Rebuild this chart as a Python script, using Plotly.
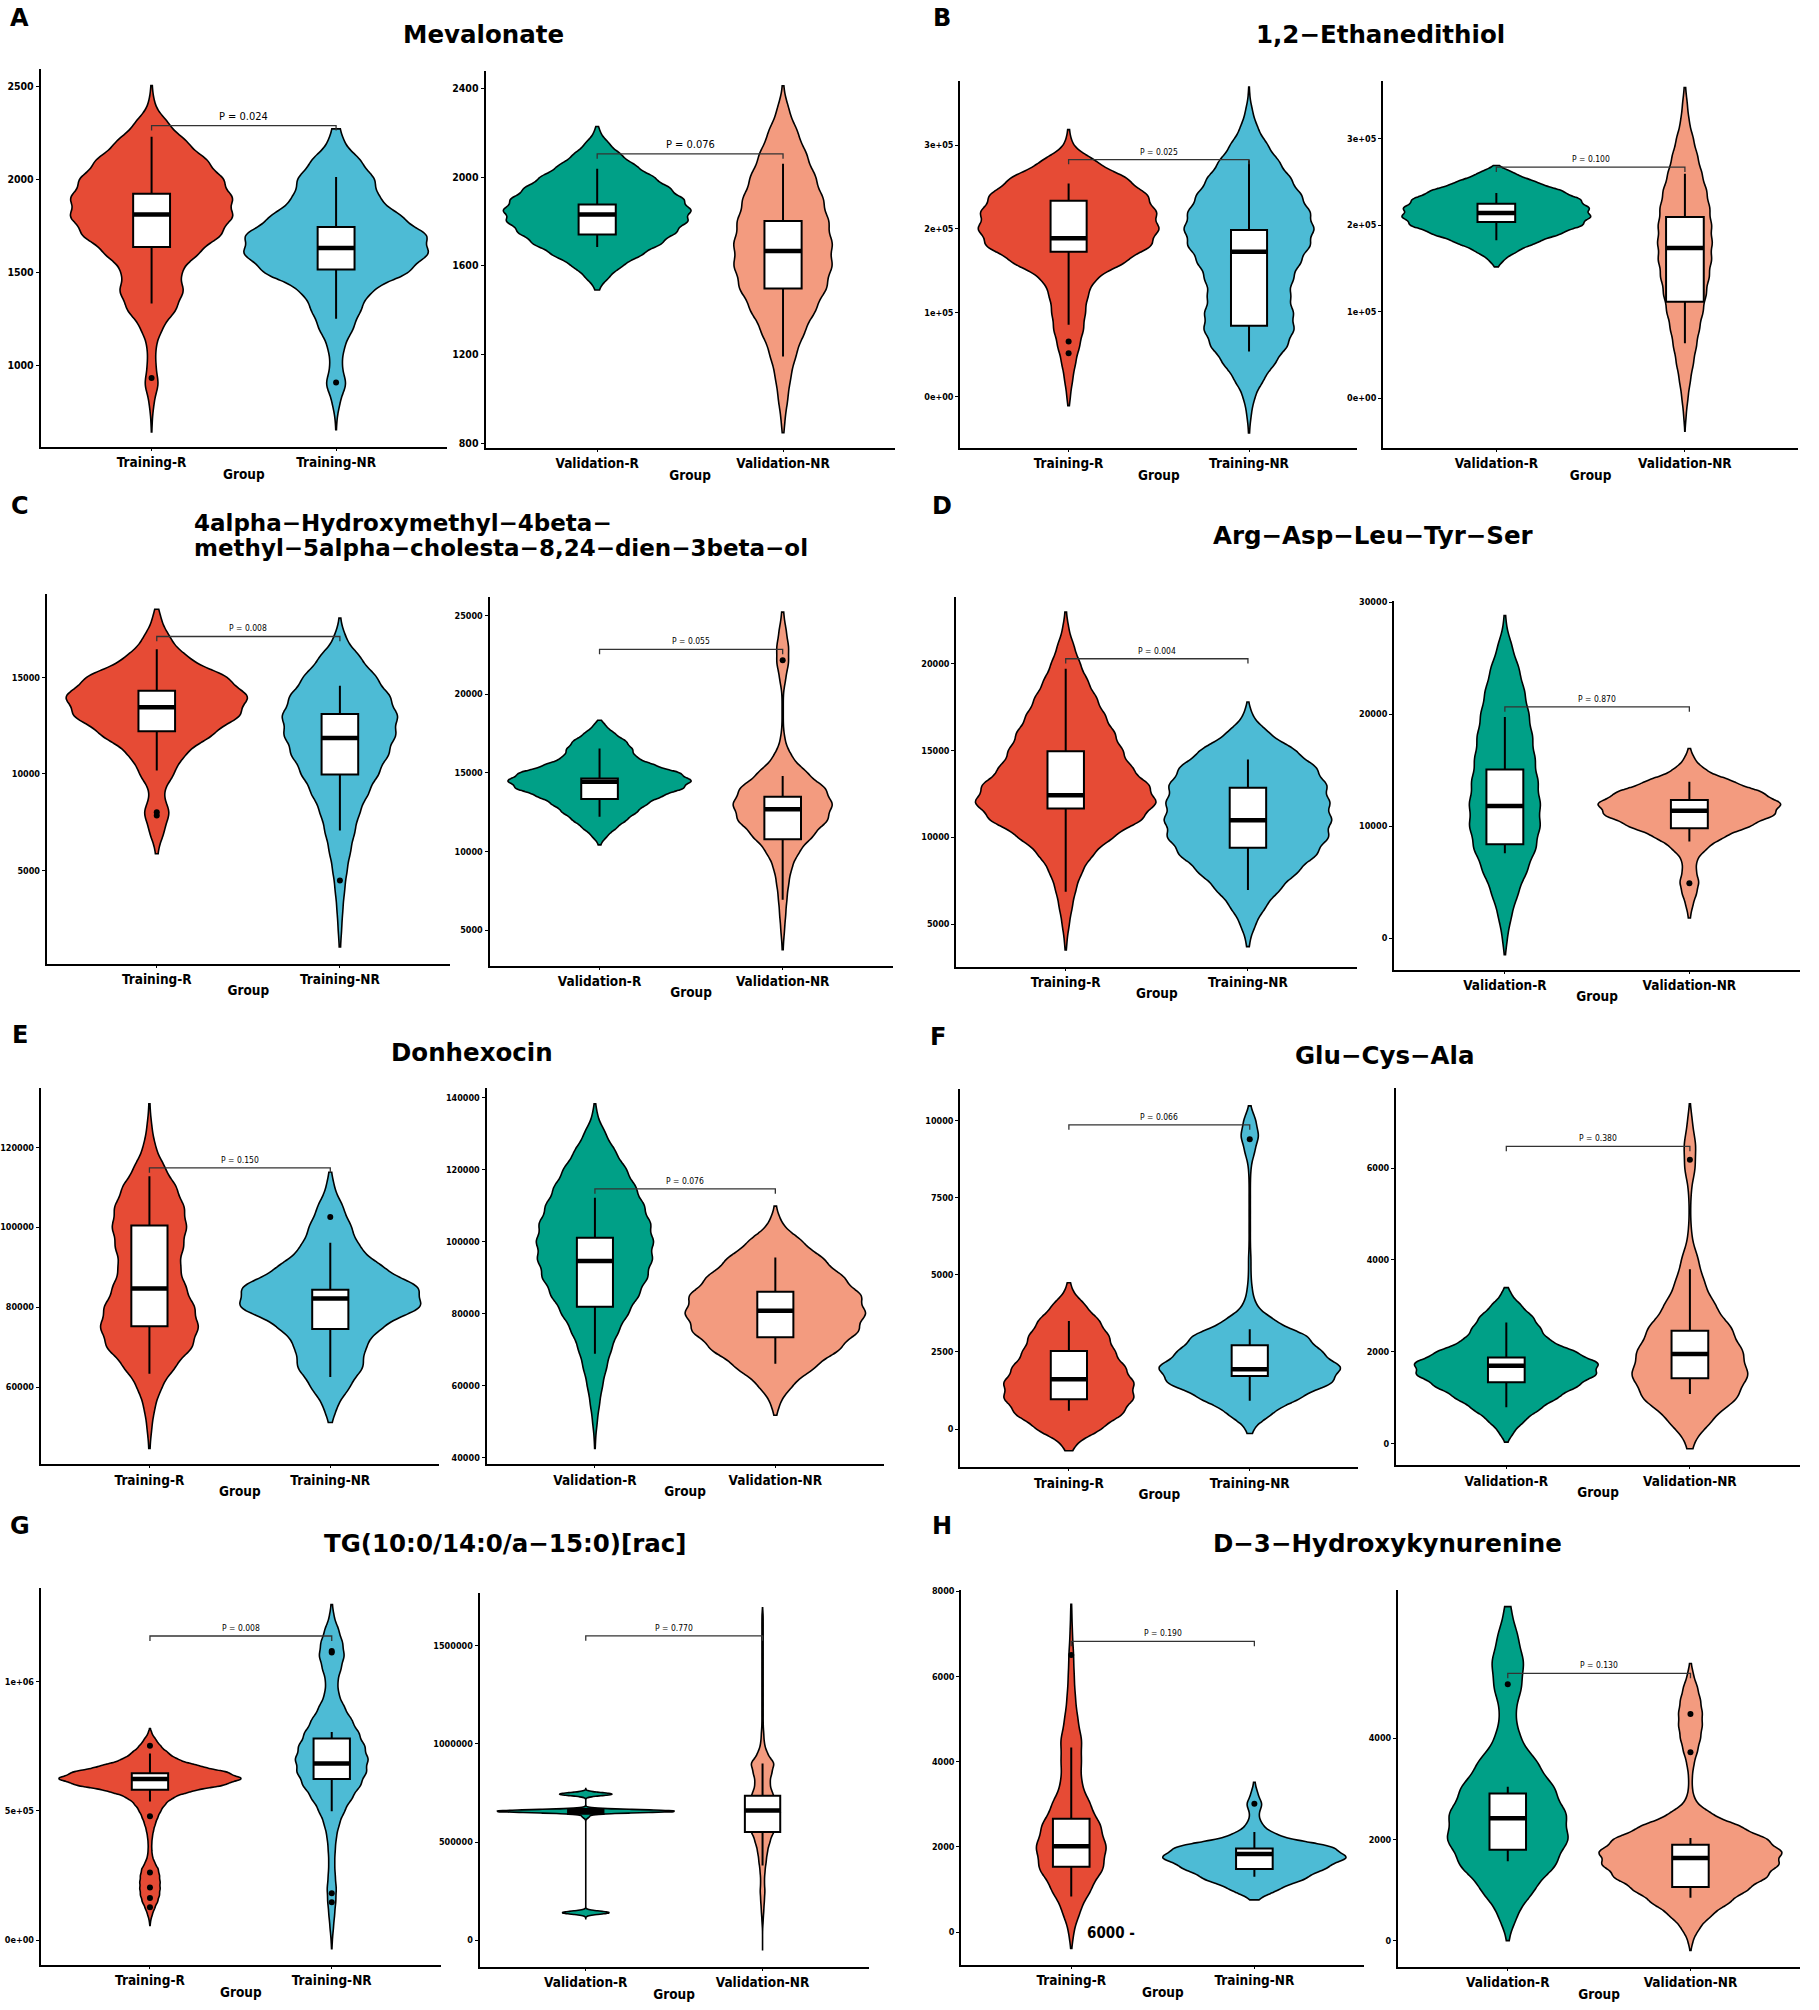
import numpy as np
import plotly.graph_objects as go

W, H = 1819, 2010

NARROW = "DejaVu Sans Condensed, Liberation Sans Narrow, Arial Narrow, sans-serif"
TITLE_FONT = "DejaVu Sans, Liberation Sans, Arial, sans-serif"

C_TR_R, C_TR_NR = "#E64B35", "#4DBBD5"
C_VA_R, C_VA_NR = "#00A087", "#F39B7F"

TRAIN = ["Training-R", "Training-NR"]
VALID = ["Validation-R", "Validation-NR"]

LETTERS = ["A", "B", "C", "D", "E", "F", "G", "H"]
TITLES = ["Mevalonate", "1,2−Ethanedithiol",
          ["4alpha−Hydroxymethyl−4beta−", "methyl−5alpha−cholesta−8,24−dien−3beta−ol"],
          "Arg−Asp−Leu−Tyr−Ser", "Donhexocin", "Glu−Cys−Ala",
          "TG(10:0/14:0/a−15:0)[rac]", "D−3−Hydroxykynurenine"]

# ---------------- violin densities: value levels and relative widths
# A  Mevalonate
A_TR_R_LV = [700, 800, 900, 1000, 1100, 1200, 1300, 1400, 1500, 1600, 1700, 1800, 1900, 2000, 2100, 2200, 2300, 2400, 2500]
A_TR_R_W = [1, 4, 12, 7, 7, 18, 42, 55, 48, 78, 118, 138, 137, 122, 95, 60, 28, 5, 1]
A_TR_NR_LV = [700, 800, 900, 1000, 1100, 1200, 1300, 1400, 1500, 1600, 1700, 1800, 1900, 2000, 2100, 2200, 2300]
A_TR_NR_W = [1, 6, 17, 9, 13, 28, 40, 55, 118, 150, 148, 105, 68, 63, 40, 12, 5]
A_VA_R_LV = [1500, 1550, 1600, 1650, 1700, 1750, 1800, 1850, 1900, 1950, 2000, 2050, 2100, 2150, 2200]
A_VA_R_W = [4, 20, 42, 75, 108, 132, 152, 158, 145, 122, 95, 65, 40, 20, 5]
A_VA_NR_LV = [900, 1000, 1100, 1200, 1300, 1400, 1500, 1600, 1700, 1800, 1900, 2000, 2100, 2200, 2300, 2400]
A_VA_NR_W = [3, 8, 13, 22, 36, 55, 74, 83, 83, 77, 68, 55, 40, 25, 10, 1]
# B  1,2-Ethanedithiol
B_TR_R_LV = [0, 20000, 40000, 60000, 80000, 100000, 120000, 140000, 160000, 180000, 200000, 220000, 240000, 260000, 280000, 300000, 320000]
B_TR_R_W = [3, 7, 12, 19, 26, 29, 33, 45, 97, 145, 157, 152, 138, 103, 48, 6, 1]
B_TR_NR_LV = [-40000, -20000, 0, 20000, 40000, 60000, 80000, 100000, 120000, 140000, 160000, 180000, 200000, 220000, 240000, 260000, 280000, 300000, 320000, 340000, 360000]
B_TR_NR_W = [1, 4, 10, 25, 45, 66, 78, 76, 70, 75, 88, 105, 112, 105, 90, 72, 52, 32, 15, 6, 1]
B_VA_R_LV = [150000, 160000, 170000, 180000, 190000, 200000, 210000, 220000, 230000, 240000, 250000, 260000, 270000]
B_VA_R_W = [1, 12, 34, 66, 105, 142, 155, 152, 138, 108, 65, 30, 1]
B_VA_NR_LV = [-20000, 0, 20000, 40000, 60000, 80000, 100000, 120000, 140000, 160000, 180000, 200000, 220000, 240000, 260000, 280000, 300000, 320000, 340000, 360000]
B_VA_NR_W = [2, 5, 9, 14, 19, 24, 30, 35, 40, 44, 45, 44, 41, 36, 28, 21, 14, 7, 4, 1]
# C  4alpha-Hydroxymethyl...
C_TR_R_LV = [6000, 7000, 8000, 9000, 10000, 11000, 12000, 13000, 14000, 15000, 16000, 17000, 18000]
C_TR_R_W = [2, 12, 22, 10, 28, 45, 90, 138, 153, 118, 50, 22, 7]
C_TR_NR_LV = [1000, 2000, 3000, 4000, 5000, 6000, 7000, 8000, 9000, 10000, 11000, 12000, 13000, 14000, 15000, 16000, 17000, 18000]
C_TR_NR_W = [1, 3, 5, 8, 12, 18, 25, 33, 48, 65, 82, 94, 98, 85, 62, 35, 10, 1]
C_VA_R_LV = [10500, 11000, 11500, 12000, 12500, 13000, 13500, 14000, 14500, 15000, 15500, 16000, 16500, 17000, 17500, 18000]
C_VA_R_W = [2, 13, 28, 45, 62, 78, 102, 140, 155, 135, 90, 60, 55, 45, 25, 10]
C_VA_NR_LV = [4000, 5000, 6000, 7000, 8000, 9000, 10000, 11000, 12000, 13000, 14000, 15000, 16000, 17000, 18000, 19000, 20000, 21000, 22000, 23000, 24000, 25000]
C_VA_NR_W = [1, 3, 5, 7, 10, 15, 27, 50, 75, 83, 72, 40, 15, 4, 1, 1, 1, 5, 10, 10, 6, 2]
# D  Arg-Asp-Leu-Tyr-Ser
D_TR_R_LV = [4000, 5000, 6000, 7000, 8000, 9000, 10000, 11000, 12000, 13000, 14000, 15000, 16000, 17000, 18000, 19000, 20000, 21000, 22000, 23000]
D_TR_R_W = [2, 6, 11, 17, 27, 45, 78, 128, 154, 140, 110, 95, 82, 66, 52, 37, 24, 14, 5, 1]
D_TR_NR_LV = [4000, 5000, 6000, 7000, 8000, 9000, 10000, 11000, 12000, 13000, 14000, 15000, 16000, 17000]
D_TR_NR_W = [3, 13, 30, 55, 85, 118, 138, 143, 139, 135, 118, 82, 35, 7]
D_VA_R_LV = [0, 2000, 4000, 6000, 8000, 10000, 12000, 14000, 16000, 18000, 20000, 22000, 24000, 26000, 28000]
D_VA_R_W = [4, 11, 22, 37, 52, 59, 59, 55, 50, 46, 40, 33, 24, 12, 2]
D_VA_NR_LV = [2000, 3000, 4000, 5000, 6000, 7000, 8000, 9000, 10000, 11000, 12000, 13000, 14000, 15000, 16000, 17000]
D_VA_NR_W = [2, 6, 12, 16, 11, 12, 28, 55, 100, 140, 152, 120, 70, 25, 8, 1]
# E  Donhexocin
E_TR_R_LV = [45000, 50000, 55000, 60000, 65000, 70000, 75000, 80000, 85000, 90000, 95000, 100000, 105000, 110000, 115000, 120000, 125000, 130000]
E_TR_R_W = [1, 4, 9, 20, 42, 72, 82, 75, 60, 50, 56, 62, 58, 45, 25, 10, 4, 1]
E_TR_NR_LV = [50000, 55000, 60000, 65000, 70000, 75000, 80000, 85000, 90000, 95000, 100000, 105000, 110000, 115000]
E_TR_NR_W = [1, 10, 30, 52, 54, 78, 145, 140, 80, 45, 33, 20, 6, 1]
E_VA_R_LV = [45000, 50000, 55000, 60000, 65000, 70000, 75000, 80000, 85000, 90000, 95000, 100000, 105000, 110000, 115000, 120000, 125000, 130000, 135000]
E_VA_R_W = [1, 4, 8, 13, 20, 28, 40, 57, 75, 90, 98, 100, 95, 84, 70, 54, 35, 18, 4]
E_VA_NR_LV = [55000, 60000, 65000, 70000, 75000, 80000, 85000, 90000, 95000, 100000, 105000, 110000]
E_VA_NR_W = [7, 28, 66, 108, 140, 152, 145, 115, 82, 45, 10, 1]
# F  Glu-Cys-Ala
F_TR_R_LV = [-500, 0, 500, 1000, 1500, 2000, 2500, 3000, 3500, 4000, 4500]
F_TR_R_W = [10, 55, 92, 110, 110, 95, 77, 68, 52, 28, 5]
F_TR_NR_LV = [0, 500, 1000, 1500, 2000, 2500, 3000, 3500, 4000, 4500, 5000, 5500, 6000, 6500, 7000, 7500, 8000, 8500, 9000, 9500, 10000, 10500]
F_TR_NR_W = [5, 35, 80, 135, 150, 115, 95, 40, 10, 4, 2, 2, 1, 1, 1, 1, 1, 2, 8, 15, 10, 1]
F_VA_R_LV = [0, 250, 500, 750, 1000, 1250, 1500, 1750, 2000, 2250, 2500, 2750, 3000, 3250]
F_VA_R_W = [1, 12, 30, 55, 85, 118, 150, 155, 115, 70, 57, 45, 25, 8]
F_VA_NR_LV = [0, 500, 1000, 1500, 2000, 2500, 3000, 3500, 4000, 4500, 5000, 5500, 6000, 6500, 7000]
F_VA_NR_W = [5, 35, 80, 98, 88, 70, 42, 24, 14, 3, 1, 2, 9, 10, 4]
# G  TG(10:0/14:0/a-15:0)[rac]
G_TR_R_LV = [75000, 100000, 125000, 150000, 175000, 200000, 225000, 250000, 275000, 300000, 325000, 350000, 375000, 400000, 425000,
             450000, 475000, 500000, 525000, 550000, 575000, 600000, 625000, 650000, 675000, 700000, 725000, 750000, 775000, 800000]
G_TR_R_W = [1, 4, 8, 13, 16, 17, 17, 16, 14, 8, 4, 3, 3, 4, 6, 9, 13, 18, 25, 37, 65, 125, 157, 130, 80, 45, 30, 18, 10, 3]
G_TR_NR_LV = [0, 50000, 100000, 150000, 200000, 250000, 300000, 350000, 400000, 450000, 500000, 550000, 600000, 650000,
              700000, 750000, 800000, 850000, 900000, 950000, 1000000, 1050000, 1100000, 1150000, 1200000, 1250000, 1300000]
G_TR_NR_W = [1, 3, 5, 7, 8, 6, 5, 6, 8, 13, 22, 35, 50, 60, 63, 57, 47, 35, 22, 12, 10, 16, 22, 19, 12, 4, 1]
G_VA_R_LV = [140000, 630000, 657000, 744000]
G_VA_R_W = [40, 6, 153, 45]
G_VA_NR_LV = [100000, 150000, 200000, 250000, 300000, 350000, 400000, 450000, 500000, 550000, 600000, 650000, 700000, 750000,
              800000, 850000, 900000, 950000, 1000000, 1050000, 1100000, 1150000, 1200000, 1250000, 1300000, 1350000, 1400000,
              1450000, 1500000, 1550000, 1600000, 1650000]
G_VA_NR_W = [1, 2, 3, 4, 3, 4, 6, 8, 12, 18, 26, 30, 25, 16, 12, 15, 20, 8, 3, 2, 1, 1, 1, 1, 1, 1, 1, 1, 1, 1, 1, 1]
# H  D-3-Hydroxykynurenine
H_TR_R_LV = [0, 500, 1000, 1500, 2000, 2500, 3000, 3500, 4000, 4500, 5000, 5500, 6000, 6500, 7000, 7500]
H_TR_R_W = [4, 15, 33, 55, 60, 50, 32, 17, 17, 18, 11, 7, 5, 4, 2, 1]
H_TR_NR_LV = [750, 1000, 1250, 1500, 1750, 2000, 2250, 2500, 2750, 3000, 3250, 3500]
H_TR_NR_W = [3, 35, 75, 105, 140, 120, 35, 12, 6, 12, 5, 1]
H_VA_R_LV = [0, 500, 1000, 1500, 2000, 2500, 3000, 3500, 4000, 4500, 5000, 5500, 6000, 6500]
H_VA_R_W = [1, 15, 43, 80, 101, 97, 78, 50, 20, 12, 23, 27, 17, 6]
H_VA_NR_LV = [0, 250, 500, 750, 1000, 1250, 1500, 1750, 2000, 2250, 2500, 2750, 3000, 3250, 3500, 3750, 4000, 4250, 4500, 4750, 5000, 5250, 5500]
H_VA_NR_W = [4, 15, 35, 65, 95, 128, 148, 155, 130, 85, 35, 8, 3, 3, 6, 12, 17, 20, 20, 17, 12, 5, 1]

# violin tips (lower, upper) per group
A_TR_SPAN = [[642, 2505], [654, 2272]]
A_VA_SPAN = [[1491, 2228], [847, 2412]]
B_TR_SPAN = [[-11100, 318700], [-43700, 369500]]
B_VA_SPAN = [[151900, 269200], [-38500, 359600]]
C_TR_SPAN = [[5863, 18534], [1036, 18069]]
C_VA_SPAN = [[10427, 18347], [3775, 25211]]
D_TR_SPAN = [[3505, 22973], [3697, 17794]]
D_VA_SPAN = [[-1482, 28812], [1785, 16932]]
E_TR_SPAN = [[44628, 130886], [51110, 113767]]
E_VA_SPAN = [[42492, 138247], [51717, 109834]]
F_TR_SPAN = [[-705, 4739], [-144, 10474]]
F_VA_SPAN = [[35, 3397], [-109, 7395]]
G_TR_SPAN = [[57500, 818400], [-32000, 1297900]]
G_VA_SPAN = [[109400, 772800], [-53500, 1693100]]
H_TR_SPAN = [[-381, 7689], [761, 3518]]
H_VA_SPAN = [[0, 6601], [-196, 5477]]

# box stats: lower whisker, q1, median, q3, upper whisker
A_TR_BOX = [[1332, 1636, 1812, 1923, 2230], [1251, 1516, 1631, 1744, 2013]]
A_VA_BOX = [[1685, 1741, 1831, 1876, 2037], [1191, 1498, 1667, 1802, 2060]]
B_TR_BOX = [[85500, 172900, 188800, 233700, 254300], [53700, 84300, 172900, 198700, 282000]]
B_VA_BOX = [[182700, 203800, 214200, 225000, 237300], [63500, 111500, 173800, 209600, 259600]]
C_TR_BOX = [[10173, 12207, 13448, 14310, 16465], [7070, 9966, 11862, 13104, 14569]]
C_VA_BOX = [[12222, 13342, 14440, 14651, 16552], [6943, 10786, 12687, 13490, 14799]]
D_TR_BOX = [[6862, 11657, 12424, 14956, 19712], [6958, 9393, 10985, 12846, 14476]]
D_VA_BOX = [[7576, 8378, 11794, 15061, 19753], [8616, 9804, 11377, 12328, 13962]]
E_TR_BOX = [[63326, 75209, 84682, 100471, 112770], [62495, 74544, 82190, 84350, 96150]]
E_VA_BOX = [[68784, 81883, 94613, 101070, 112141], [66015, 73394, 80774, 86033, 95535]]
F_TR_BOX = [[589, 966, 1613, 2530, 3500], [912, 1721, 1937, 2713, 3230]]
F_VA_BOX = [[794, 1337, 1698, 1879, 2638], [1084, 1424, 1951, 2457, 3795]]
G_TR_BOX = [[537000, 581800, 624000, 645800, 722500], [498700, 624000, 684000, 780000, 805600]]
G_VA_BOX = [[640000, 643500, 656900, 668700, 672000], [380000, 551100, 660200, 735800, 900000]]
H_TR_BOX = [[839, 1538, 2019, 2664, 4334], [1305, 1483, 1833, 1965, 2353]]
H_VA_BOX = [[1569, 1797, 2418, 2908, 3039], [849, 1059, 1634, 1895, 2026]]

# outlier points
A_TR_OUT = [[932], [907]]
A_VA_OUT = [[], []]
B_TR_OUT = [[65600, 51700], []]
B_VA_OUT = [[], []]
C_TR_OUT = [[8018, 7845], [4484]]
C_VA_OUT = [[], [22149]]
D_TR_OUT = [[], []]
D_VA_OUT = [[], [4904]]
E_TR_OUT = [[], [102549]]
E_VA_OUT = [[], []]
F_TR_OUT = [[], [9396]]
F_VA_OUT = [[], [6181]]
G_TR_OUT = [[752000, 479500, 262100, 204600, 163700, 127900], [1118900, 1112500, 181600, 147000]]
G_VA_OUT = [[], []]
H_TR_OUT = [[6500], [3014]]
H_VA_OUT = [[5065], [4477, 3725]]

# comparison brackets: (label, height)
A_TR_P = ("P = 0.024", 2290)
A_VA_P = ("P = 0.076", 2105)
B_TR_P = ("P = 0.025", 282900)
B_VA_P = ("P = 0.100", 267300)
C_TR_P = ("P = 0.008", 17120)
C_VA_P = ("P = 0.055", 22846)
D_TR_P = ("P = 0.004", 20288)
D_VA_P = ("P = 0.870", 20645)
E_TR_P = ("P = 0.150", 114848)
E_VA_P = ("P = 0.076", 114631)
F_TR_P = ("P = 0.066", 9860)
F_VA_P = ("P = 0.380", 6470)
G_TR_P = ("P = 0.008", 1176500)
G_VA_P = ("P = 0.770", 1550400)
H_TR_P = ("P = 0.190", 6819)
H_VA_P = ("P = 0.130", 5281)

# y tick values
A_TR_TICKS = [1000, 1500, 2000, 2500]
A_VA_TICKS = [800, 1200, 1600, 2000, 2400]
B_TICKS = [0, 100000, 200000, 300000]
B_TICKTEXT = ["0e+00", "1e+05", "2e+05", "3e+05"]
C_TR_TICKS = [5000, 10000, 15000]
C_VA_TICKS = [5000, 10000, 15000, 20000, 25000]
D_TR_TICKS = [5000, 10000, 15000, 20000]
D_VA_TICKS = [0, 10000, 20000, 30000]
E_TR_TICKS = [60000, 80000, 100000, 120000]
E_VA_TICKS = [40000, 60000, 80000, 100000, 120000, 140000]
F_TR_TICKS = [0, 2500, 5000, 7500, 10000]
F_VA_TICKS = [0, 2000, 4000, 6000]
G_TR_TICKS = [0, 500000, 1000000]
G_TR_TICKTEXT = ["0e+00", "5e+05", "1e+06"]
G_VA_TICKS = [0, 500000, 1000000, 1500000]
H_TR_TICKS = [0, 2000, 4000, 6000, 8000]
H_VA_TICKS = [0, 2000, 4000]

# ---------------- panels (layout in px of the 1819x2010 page)
SUBPLOTS = [
    dict(cats=TRAIN, lv=(A_TR_R_LV, A_TR_NR_LV), wt=(A_TR_R_W, A_TR_NR_W), span=A_TR_SPAN, box=A_TR_BOX, out=A_TR_OUT,
         p=A_TR_P, ticks=A_TR_TICKS, px=[36, 443, 65, 444], yr=[561, 2595], vw=[0.88, 1.0], bw=[50, 50], tf=10.5, pf=11),
    dict(cats=VALID, lv=(A_VA_R_LV, A_VA_NR_LV), wt=(A_VA_R_W, A_VA_NR_W), span=A_VA_SPAN, box=A_VA_BOX, out=A_VA_OUT,
         p=A_VA_P, ticks=A_VA_TICKS, px=[482, 892, 67, 445], yr=[779, 2479], vw=[1.01, 0.53], bw=[25, 50], tf=10.5, pf=11),
    dict(cats=TRAIN, lv=(B_TR_R_LV, B_TR_NR_LV), wt=(B_TR_R_W, B_TR_NR_W), span=B_TR_SPAN, box=B_TR_BOX, out=B_TR_OUT,
         p=B_TR_P, ticks=B_TICKS, ticktext=B_TICKTEXT, px=[958, 1356, 77, 445], yr=[-61500, 377000], vw=[1.0, 0.72], bw=[10000, 10000]),
    dict(cats=VALID, lv=(B_VA_R_LV, B_VA_NR_LV), wt=(B_VA_R_W, B_VA_NR_W), span=B_VA_SPAN, box=B_VA_BOX, out=B_VA_OUT,
         p=B_VA_P, ticks=B_TICKS, ticktext=B_TICKTEXT, px=[1382, 1798, 77, 445], yr=[-57700, 367300], vw=[1.0, 0.29], bw=[5000, 10000]),
    dict(cats=TRAIN, lv=(C_TR_R_LV, C_TR_NR_LV), wt=(C_TR_R_W, C_TR_NR_W), span=C_TR_SPAN, box=C_TR_BOX, out=C_TR_OUT,
         p=C_TR_P, ticks=C_TR_TICKS, px=[42, 446, 591, 962], yr=[174, 19345], vw=[0.99, 0.63], bw=[500, 500]),
    dict(cats=VALID, lv=(C_VA_R_LV, C_VA_NR_LV), wt=(C_VA_R_W, C_VA_NR_W), span=C_VA_SPAN, box=C_VA_BOX, out=C_VA_OUT,
         p=C_VA_P, ticks=C_VA_TICKS, px=[486, 890, 594, 964], yr=[2760, 26204], vw=[1.0, 0.54], bw=[250, 500]),
    dict(cats=TRAIN, lv=(D_TR_R_LV, D_TR_NR_LV), wt=(D_TR_R_W, D_TR_NR_W), span=D_TR_SPAN, box=D_TR_BOX, out=D_TR_OUT,
         p=D_TR_P, ticks=D_TR_TICKS, px=[954, 1356, 594, 965], yr=[2546, 23874], vw=[0.99, 0.92], bw=[500, 500]),
    dict(cats=VALID, lv=(D_VA_R_LV, D_VA_NR_LV), wt=(D_VA_R_W, D_VA_NR_W), span=D_VA_SPAN, box=D_VA_BOX, out=D_VA_OUT,
         p=D_VA_P, ticks=D_VA_TICKS, px=[1393, 1800, 598, 968], yr=[-2819, 30148], vw=[0.385, 0.99], bw=[1000, 500]),
    dict(cats=TRAIN, lv=(E_TR_R_LV, E_TR_NR_LV), wt=(E_TR_R_W, E_TR_NR_W), span=E_TR_SPAN, box=E_TR_BOX, out=E_TR_OUT,
         p=E_TR_P, ticks=E_TR_TICKS, px=[36, 435, 1087, 1464], yr=[40640, 134792], vw=[0.54, 1.0], bw=[2500, 2500]),
    dict(cats=VALID, lv=(E_VA_R_LV, E_VA_NR_LV), wt=(E_VA_R_W, E_VA_NR_W), span=E_VA_SPAN, box=E_VA_BOX, out=E_VA_OUT,
         p=E_VA_P, ticks=E_VA_TICKS, px=[483, 881, 1087, 1464], yr=[38064, 142583], vw=[0.65, 1.0], bw=[2500, 2500]),
    dict(cats=TRAIN, lv=(F_TR_R_LV, F_TR_NR_LV), wt=(F_TR_R_W, F_TR_NR_W), span=F_TR_SPAN, box=F_TR_BOX, out=F_TR_OUT,
         p=F_TR_P, ticks=F_TR_TICKS, px=[958, 1357, 1088, 1467], yr=[-1243, 11013], vw=[0.72, 1.0], bw=[250, 250]),
    dict(cats=VALID, lv=(F_VA_R_LV, F_VA_NR_LV), wt=(F_VA_R_W, F_VA_NR_W), span=F_VA_SPAN, box=F_VA_BOX, out=F_VA_OUT,
         p=F_VA_P, ticks=F_VA_TICKS, px=[1395, 1800, 1087, 1465], yr=[-471, 7735], vw=[1.0, 0.63], bw=[125, 250]),
    dict(cats=TRAIN, lv=(G_TR_R_LV, G_TR_NR_LV), wt=(G_TR_R_W, G_TR_NR_W), span=G_TR_SPAN, box=G_TR_BOX, out=G_TR_OUT,
         p=G_TR_P, ticks=G_TR_TICKS, ticktext=G_TR_TICKTEXT, px=[36, 437, 1588, 1966], yr=[-95900, 1361900], vw=[1.0, 0.40], bw=[12500, 25000]),
    dict(cats=VALID, lv=(G_VA_R_LV, G_VA_NR_LV), wt=(G_VA_R_W, G_VA_NR_W), span=G_VA_SPAN, box=G_VA_BOX, out=G_VA_OUT,
         p=G_VA_P, ticks=G_VA_TICKS, px=[476, 866, 1593, 1968], yr=[-137500, 1768700], vw=[1.0, 0.20], bw=[8000, 25000]),
    dict(cats=TRAIN, lv=(H_TR_R_LV, H_TR_NR_LV), wt=(H_TR_R_W, H_TR_NR_W), span=H_TR_SPAN, box=H_TR_BOX, out=H_TR_OUT,
         p=H_TR_P, ticks=H_TR_TICKS, px=[959, 1363, 1590, 1966], yr=[-769, 8023], vw=[0.38, 1.0], bw=[250, 125]),
    dict(cats=VALID, lv=(H_VA_R_LV, H_VA_NR_LV), wt=(H_VA_R_W, H_VA_NR_W), span=H_VA_SPAN, box=H_VA_BOX, out=H_VA_OUT,
         p=H_VA_P, ticks=H_VA_TICKS, px=[1397, 1800, 1590, 1968], yr=[-523, 6928], vw=[0.66, 1.0], bw=[250, 125]),
]

# letter / title placement (px centres; C title is left aligned, two lines)
LETTER_POS = [(15, 14), (940, 14), (15, 503), (940, 503), (15, 1034), (936, 1036), (15, 1526), (940, 1526)]
TITLE_POS = [(480, 31), (1379, 31), (188, (520, 545)), (1372, 533), (468, 1051), (1383, 1054), (502, 1543), (1386, 1543)]

fig = go.Figure()
annots = []

for i, sp in enumerate(SUBPLOTS, start=1):
    sfx = "" if i == 1 else str(i)
    xa, ya = "x" + sfx, "y" + sfx
    colors = (C_TR_R, C_TR_NR) if sp["cats"] is TRAIN else (C_VA_R, C_VA_NR)
    for k in range(2):
        samples = np.repeat(np.array(sp["lv"][k], dtype=float), sp["wt"][k])
        fig.add_trace(go.Violin(
            x0=k, y=samples, xaxis=xa, yaxis=ya, width=sp["vw"][k], bandwidth=sp["bw"][k],
            spanmode="manual", span=sp["span"][k], scalemode="width", scalegroup=f"g{i}_{k}",
            fillcolor=colors[k], line=dict(color="black", width=1.6), points=False,
            hoverinfo="skip", showlegend=False))
        lo, q1, med, q3, hi = sp["box"][k]
        fig.add_trace(go.Box(
            x=[k], q1=[q1], median=[med], q3=[q3], lowerfence=[lo], upperfence=[hi],
            xaxis=xa, yaxis=ya, width=0.2, whiskerwidth=0, fillcolor="white",
            line=dict(color="black", width=2), boxpoints=False, hoverinfo="skip", showlegend=False))
        # thick median bar
        fig.add_trace(go.Box(
            x=[k], q1=[med], median=[med], q3=[med], lowerfence=[med], upperfence=[med],
            xaxis=xa, yaxis=ya, width=0.2, whiskerwidth=0, fillcolor="rgba(0,0,0,0)",
            line=dict(color="black", width=4.5), boxpoints=False, hoverinfo="skip", showlegend=False))
        if sp["out"][k]:
            fig.add_trace(go.Scatter(
                x=[k] * len(sp["out"][k]), y=sp["out"][k], xaxis=xa, yaxis=ya, mode="markers",
                marker=dict(color="black", size=6), hoverinfo="skip", showlegend=False))

    # comparison bracket
    label, by = sp["p"]
    tk = 0.013 * (sp["yr"][1] - sp["yr"][0])
    fig.add_trace(go.Scatter(
        x=[0, 0, 1, 1], y=[by - tk, by, by, by - tk], xaxis=xa, yaxis=ya, mode="lines",
        line=dict(color="#333333", width=1.3), hoverinfo="skip", showlegend=False))
    annots.append(dict(x=0.5, y=by, xref=xa, yref=ya, text=label, showarrow=False,
                       yanchor="bottom", yshift=1,
                       font=dict(family=NARROW, size=sp.get("pf", 8.5), color="black")))

    x0, x1, top, bot = sp["px"]
    fig.layout["xaxis" + sfx] = dict(
        domain=[x0 / W, x1 / W], anchor=ya, range=[-0.6, 1.6],
        tickmode="array", tickvals=[0, 1], ticktext=sp["cats"],
        showline=True, linecolor="black", linewidth=2.2, ticks="outside", ticklen=2,
        tickcolor="black", tickwidth=1, showgrid=False, zeroline=False,
        tickfont=dict(family=NARROW, size=13.5, color="black", weight="bold"),
        title=dict(text="Group", standoff=0, font=dict(family=NARROW, size=13.5, color="black", weight="bold")))
    ytext = sp.get("ticktext", [str(t) for t in sp["ticks"]])
    fig.layout["yaxis" + sfx] = dict(
        domain=[1 - bot / H, 1 - top / H], anchor=xa, range=sp["yr"],
        tickmode="array", tickvals=sp["ticks"], ticktext=ytext,
        showline=True, linecolor="black", linewidth=2.2, ticks="outside", ticklen=3,
        tickcolor="black", tickwidth=1, showgrid=False, zeroline=False,
        tickfont=dict(family=NARROW, size=sp.get("tf", 9), color="black", weight="bold"))

for j in range(8):
    lx, ly = LETTER_POS[j]
    annots.append(dict(x=lx / W, y=1 - ly / H, xref="paper", yref="paper", text=LETTERS[j],
                       showarrow=False, xanchor="center", yanchor="middle",
                       font=dict(family=TITLE_FONT, size=24, color="black", weight="bold")))
    tx, ty = TITLE_POS[j]
    if isinstance(TITLES[j], list):
        for line, yy in zip(TITLES[j], ty):
            annots.append(dict(x=tx / W, y=1 - yy / H, xref="paper", yref="paper", text=line,
                               showarrow=False, xanchor="left", yanchor="middle",
                               font=dict(family=TITLE_FONT, size=23, color="black", weight="bold")))
    else:
        annots.append(dict(x=tx / W, y=1 - ty / H, xref="paper", yref="paper", text=TITLES[j],
                           showarrow=False, xanchor="center", yanchor="middle",
                           font=dict(family=TITLE_FONT, size=24.5, color="black", weight="bold")))

# stray tick label left in panel H of the original
annots.append(dict(x=1109 / W, y=1 - 1945 / H, xref="paper", yref="paper", text="6000 -",
                   showarrow=False, font=dict(family=NARROW, size=15, color="black", weight="bold")))

fig.update_layout(
    width=W, height=H, margin=dict(l=0, r=0, t=0, b=0),
    paper_bgcolor="white", plot_bgcolor="white", showlegend=False,
    violinmode="overlay", boxmode="overlay", annotations=annots)

fig.write_html("out.html", config={"displayModeBar": False},
               post_script="document.body.style.margin='0px';")
